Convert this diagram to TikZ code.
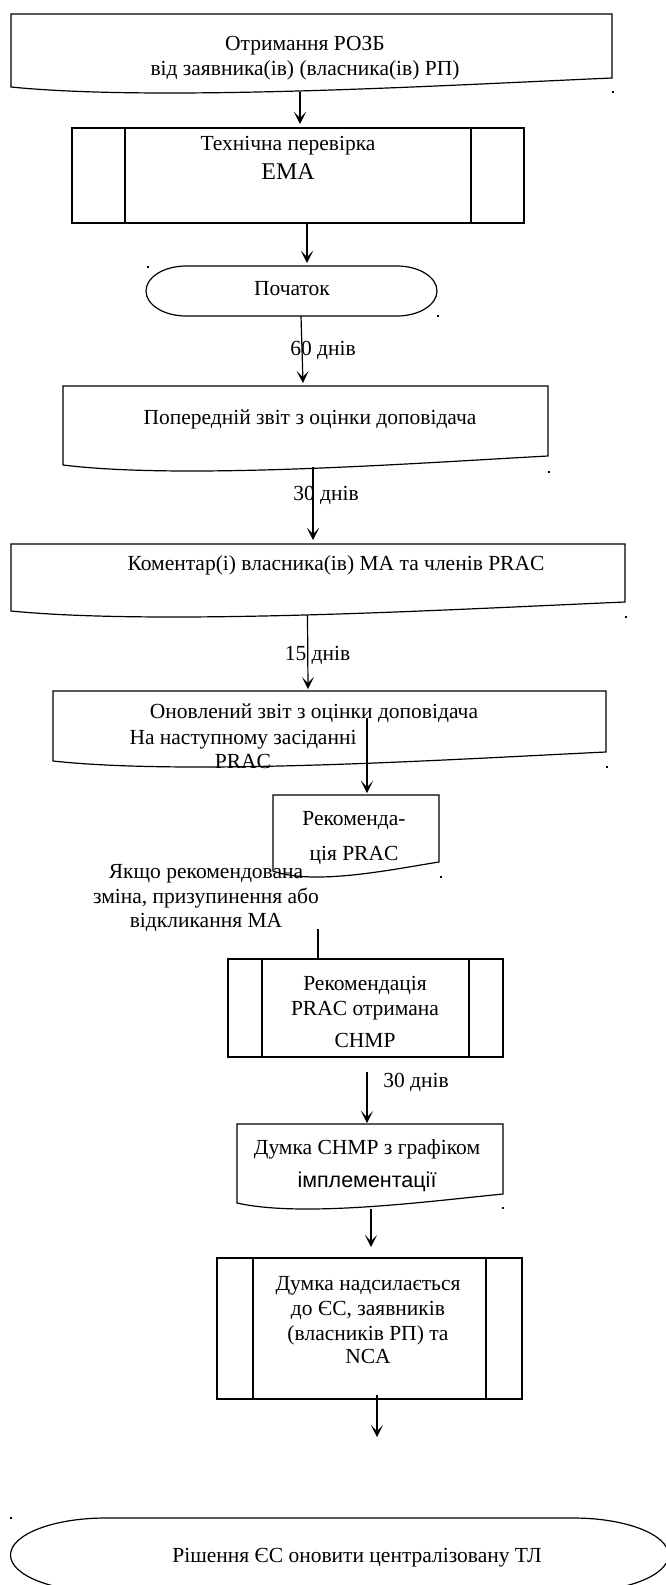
\documentclass[tikz,border=0pt]{standalone}
\usepackage{fontspec}
\setmainfont{Liberation Serif}
\setsansfont{Liberation Sans}
\usetikzlibrary{arrows.meta,calc}

\begin{document}
\begin{tikzpicture}[x=1pt, y=-1pt, > = {Stealth[length=12pt,width=12pt,inset=6pt]}, line width=1.2pt,
    font=\fontsize{21.5}{25}\selectfont,
    txt/.style = {anchor=base, align=center, inner sep=0pt},
    box/.style = {inner sep=0pt, outer sep=0pt},
    procbox/.style = {box, draw, append after command={\pgfextra{
        \draw ([xshift=#1]\tikzlastnode.north west) -- ([xshift=#1]\tikzlastnode.south west)
              ([xshift=-#1]\tikzlastnode.north east) -- ([xshift=-#1]\tikzlastnode.south east);}}},
    docbox/.style = {box, append after command={\pgfextra{
        \draw (\tikzlastnode.north west) -- (\tikzlastnode.north east) -- ([yshift=15pt]\tikzlastnode.south east)
              .. controls ($(\tikzlastnode.south west)!0.73!(\tikzlastnode.south east)+(0,-8)$)
              and ($(\tikzlastnode.south west)!0.25!(\tikzlastnode.south east)+(0,9)$)
              .. ([yshift=6pt]\tikzlastnode.south west) -- cycle;}}},
    termbox/.style 2 args = {box, append after command={\pgfextra{
        \draw ([xshift=#1]\tikzlastnode.north west) -- ([xshift=-#1]\tikzlastnode.north east)
              arc[start angle=-90, end angle=90, x radius=#1, y radius=#2]
              -- ([xshift=#1]\tikzlastnode.south west)
              arc[start angle=90, end angle=270, x radius=#1, y radius=#2] -- cycle;}}}]

    \useasboundingbox (0,0) rectangle (665,1585);

    % boxes
    \node[docbox, minimum width=601pt, minimum height=79pt] (b1) at (311.5,53.5) {};
    \node[procbox=53, minimum width=452pt, minimum height=95pt] (b2) at (298,175.5) {};
    \node[termbox={40}{25}, minimum width=291pt, minimum height=50pt] (st) at (291.5,291) {};
    \node[docbox, minimum width=485pt, minimum height=85pt] (b3) at (305.5,428.5) {};
    \node[docbox, minimum width=614pt, minimum height=73pt] (b4) at (318,580.5) {};
    \node[docbox, minimum width=553pt, minimum height=76pt] (b5) at (329.5,729) {};
    \node[docbox, minimum width=166pt, minimum height=82pt] (b6) at (356,836) {};
    \node[procbox=34, minimum width=275pt, minimum height=98pt] (b7) at (365.5,1008) {};
    \node[docbox, minimum width=266pt, minimum height=85pt] (b8) at (370,1166.5) {};
    \node[procbox=36, minimum width=305pt, minimum height=141pt] (b9) at (369.5,1328.5) {};
    \node[termbox={95}{37}, minimum width=658pt, minimum height=74pt] (fin) at (339.5,1555) {};

    % texts (base = last line)
    \node[txt] (t1) at (305,75) {Отримання РОЗБ\\від заявника(ів) (власника(ів) РП)};
    \node[txt] (t2) at (288,179) {Технічна перевірка\\[4pt]{\fontsize{24}{28}\selectfont EMA}};
    \node[txt] (tst) at (292,295) {Початок};
    \node[txt] (t3) at (310,424) {Попередній звіт з оцінки доповідача};
    \node[txt] (t4) at (336,570) {Коментар(і) власника(ів) MA та членів PRAC};
    \node[txt] (t5) at (314,718) {Оновлений звіт з оцінки доповідача};
    \node[txt] (t5b) at (243,768) {На наступному засіданні\\[-1pt]PRAC};
    \node[txt] (t6) at (354,860) {Рекоменда-\\[10pt]ція PRAC};
    \node[txt] (cond) at (206,927) {Якщо рекомендована\\зміна, призупинення або\\[-1pt]відкликання MA};
    \node[txt] (t7) at (365,1047) {Рекомендація\\PRAC отримана\\[7pt]CHMP};
    \node[txt] (t8) at (367,1187) {Думка CHMP з графіком\\[8pt]{\sffamily імплементації}};
    \node[txt] (t9) at (368,1363) {Думка надсилається\\до ЄС, заявників\\(власників РП) та\\[-2pt]NCA};
    \node[txt] (tfin) at (357,1562) {Рішення ЄС оновити централізовану ТЛ};

    % day counts
    \node[txt] (d60) at (323,355) {60 днів};
    \node[txt] (d30a) at (326,500) {30 днів};
    \node[txt] (d15) at (317.5,660) {15 днів};
    \node[txt] (d30b) at (416,1087) {30 днів};

    % connectors
    \draw[->] ([xshift=-11.5pt,yshift=1pt]b1.south) -- ([xshift=2pt,yshift=4pt]b2.north);
    \draw[->] ([xshift=9pt]b2.south) -- ([xshift=15.5pt,yshift=3pt]st.north);
    \draw[->] ([xshift=9.5pt]st.south) -- ([xshift=-2.5pt,yshift=3pt]b3.north);
    \draw[->] ([xshift=7.5pt,yshift=4pt]b3.south) -- ([xshift=-5pt,yshift=4pt]b4.north);
    \draw[->] ([xshift=-10.5pt,yshift=2pt]b4.south) -- ([xshift=-21.5pt,yshift=2pt]b5.north);
    \draw[->] ([xshift=37.5pt,yshift=-27pt]b5.north) -- ([xshift=11pt,yshift=2pt]b6.north);
    \draw ([xshift=-47.5pt,yshift=30pt]b7.north) -- ([xshift=-47.5pt]b7.north);
    \draw[->] ([xshift=1.5pt,yshift=-15pt]b7.south) -- ([xshift=-3pt,yshift=1pt]b8.north);
    \draw[->] ([xshift=1pt]b8.south) -- ([xshift=1.5pt,yshift=11pt]b9.north);
    \draw[->] ([xshift=7.5pt,yshift=4pt]b9.south) -- ([xshift=37.5pt,yshift=81pt]fin.north);

    % stray dots
    \foreach \p in {(612,91),(147,266),(437,315),(548,471),(625,616),(606,766),(440,876),(502,1207),(10,1517)}
        \fill \p rectangle ++(2,2);

\end{tikzpicture}
\end{document}
